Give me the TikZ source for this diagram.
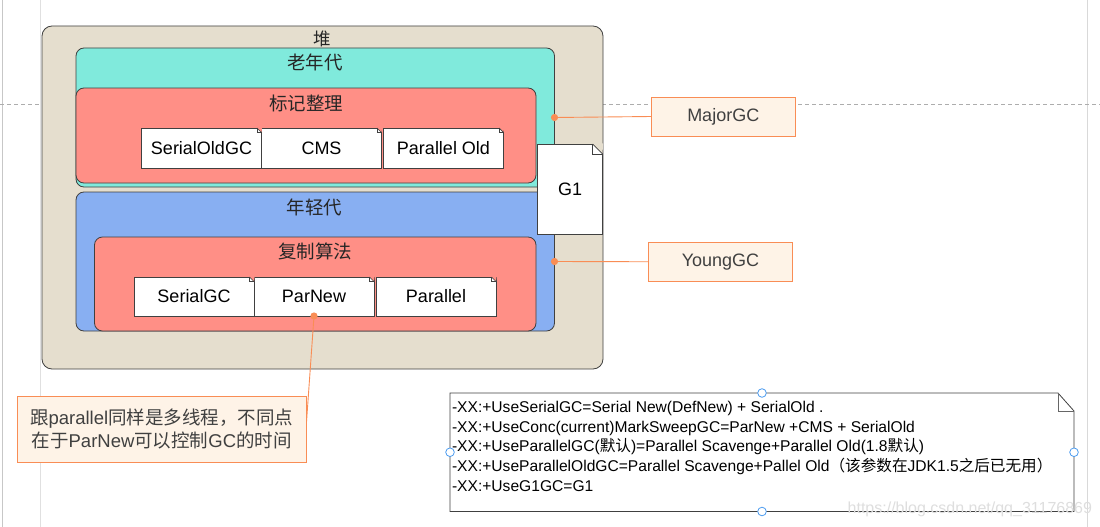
\documentclass[tikz,border=0pt]{standalone}
\usepackage{fontspec}
\setmainfont{Liberation Sans}
\newfontfamily\cjk{Noto Sans CJK SC}
\definecolor{heapc}{HTML}{E5DECE}
\definecolor{oldc}{HTML}{80EADC}
\definecolor{redc}{HTML}{FF8F86}
\definecolor{youngc}{HTML}{88AFF2}
\definecolor{orangec}{HTML}{F98D55}
\definecolor{notec}{HTML}{FEF3E7}
\definecolor{edgec}{HTML}{404040}
\definecolor{handlec}{HTML}{4A9BF0}
\newcommand\dogear[3]{%
  \fill[#3] ([xshift=-#2]#1.north east) -- ([xshift=0.6pt,yshift=0.6pt]#1.north east) -- ([yshift=-#2]#1.north east) -- cycle;
  \draw[edgec, line width=0.7pt] ([xshift=-#2]#1.north east) -- ([yshift=-#2]#1.north east);
  \draw[edgec, line width=0.7pt] ([xshift=-#2]#1.north east) |- ([yshift=-#2]#1.north east);
}
\tikzset{
  every node/.style={outer sep=0pt, inner sep=0pt},
  container/.style={draw=edgec, line width=0.8pt, rounded corners=8pt},
  gcbox/.style={draw=edgec, line width=0.8pt, fill=white, font=\fontsize{18}{20}\selectfont},
  tag/.style={draw=orangec, line width=0.9pt, fill=notec, text=edgec, font=\fontsize{18}{20}\selectfont},
  lbl/.style={text=black!85, font=\cjk\fontsize{18.5}{20}\selectfont},
  conn/.style={draw=orangec, line width=0.9pt},
  dot/.style={fill=orangec},
  handle/.style={draw=handlec, fill=white, line width=0.8pt},
  codeline/.style={anchor=base west, font=\fontsize{15.6}{19}\selectfont},
}
\begin{document}
\begin{tikzpicture}[x=1pt, y=-1pt]
\useasboundingbox (0,0) rectangle (1100,527);
% background guides
\draw[black!22, line width=1.6pt] (2.5,0) -- (2.5,527);
\draw[black!12, line width=0.8pt] (40,0) -- (40,527);
\draw[black!15, line width=0.8pt] (1087,0) -- (1087,527);
\draw[black!32, line width=0.7pt, dash pattern=on 4pt off 3pt] (0,104) -- (1100,104);

% heap
\node[container, fill=heapc, rounded corners=10pt, minimum width=561pt, minimum height=343pt] (heap) at (322.5,197.5) {};
\node[lbl, font=\cjk\fontsize{17.5}{20}\selectfont] (heaplbl) at (322.5,39) {堆};

% old generation
\node[container, fill=oldc, minimum width=478.5pt, minimum height=139pt] (old) at (315.25,117.5) {};
\node[lbl] (oldlbl) at (315,62) {老年代};
\node[container, fill=redc, minimum width=460pt, minimum height=95pt] (mark) at (306,135.5) {};
\node[lbl] (marklbl) at (306,103) {标记整理};
\node[gcbox, minimum width=120pt, minimum height=40pt] (serialold) at (201.5,148) {SerialOldGC};
\node[gcbox, minimum width=120pt, minimum height=40pt] (cms) at (321.5,148) {CMS};
\node[gcbox, minimum width=120pt, minimum height=40pt] (parold) at (443.5,148) {Parallel Old};
\dogear{serialold}{4.5pt}{redc}
\dogear{cms}{4.5pt}{redc}
\dogear{parold}{4.5pt}{redc}

% young generation
\node[container, fill=youngc, minimum width=478.5pt, minimum height=139pt] (young) at (315.25,261.5) {};
\node[lbl] (younglbl) at (314.5,207.5) {年轻代};
\node[container, fill=redc, minimum width=441.5pt, minimum height=94pt] (copy) at (315.25,284) {};
\node[lbl] (copylbl) at (315,251.5) {复制算法};
\node[gcbox, minimum width=120pt, minimum height=39pt] (serial) at (194,296.5) {SerialGC};
\node[gcbox, minimum width=120pt, minimum height=39pt] (parnew) at (314,296.5) {ParNew};
\node[gcbox, minimum width=120pt, minimum height=39pt] (parallel) at (436,296.5) {Parallel};
\dogear{serial}{4.5pt}{redc}
\dogear{parnew}{4.5pt}{redc}
\dogear{parallel}{4.5pt}{redc}

% G1
\node[gcbox, minimum width=65pt, minimum height=90pt] (g1) at (570,189) {G1};
\dogear{g1}{10pt}{heapc}

% GC kinds
\node[tag, minimum width=143.5pt, minimum height=39pt] (major) at (723.25,116.5) {MajorGC};
\node[tag, minimum width=144pt, minimum height=38.5pt] (younggc) at (720.5,261.75) {YoungGC};
\draw[conn] (old.east) -- (major.west);
\draw[conn] (young.east) -- (younggc.west);

% note about ParNew
\draw[conn] (parnew.south) -- (306,429) coordinate (noteend);
\node[tag, minimum width=288.7pt, minimum height=66pt, align=center, font=\fontsize{18.5}{23.3}\selectfont] (note) at (161.65,429)
  {{\cjk 跟}parallel{\cjk 同样是多线程，不同点}\\{\cjk 在于}ParNew{\cjk 可以控制}GC{\cjk 的时间}};
\fill[dot] (old.east) circle (3.6pt);
\fill[dot] (young.east) circle (3.6pt);
\fill[dot] (parnew.south) circle (3.6pt);

% code note
\node[minimum width=624pt, minimum height=118.5pt] (code) at (762,452.25) {};
\draw[edgec, line width=0.8pt, fill=white] (code.south west) -- (code.north west) -- ([xshift=-16pt]code.north east) -- ([yshift=-18pt]code.north east) -- (code.south east) -- cycle;
\draw[edgec!80, line width=0.7pt] ([xshift=-16pt]code.north east) |- ([yshift=-18pt]code.north east);
\node[codeline] (c1) at (452,412) {-XX:+UseSerialGC=Serial New(DefNew) + SerialOld .};
\node[codeline] (c2) at (452,432) {-XX:+UseConc(current)MarkSweepGC=ParNew +CMS + SerialOld};
\node[codeline] (c3) at (452,451.5) {-XX:+UseParallelGC({\cjk 默认})=Parallel Scavenge+Parallel Old(1.8{\cjk 默认})};
\node[codeline] (c4) at (452,471.5) {-XX:+UseParallelOldGC=Parallel Scavenge+Pallel Old{\cjk （该参数在}JDK1.5{\cjk 之后已无用）}};
\node[codeline] (c5) at (452,491.5) {-XX:+UseG1GC=G1};
\node[text=black!13, font=\fontsize{16}{18}\selectfont, anchor=base east] (wm) at (1092,513) {https://blog.csdn.net/qq\_31176869};
\draw[handle] (code.north) circle (4.3pt);
\draw[handle] (code.south) circle (4.3pt);
\draw[handle] (code.west) circle (4.3pt);
\draw[handle] (code.east) circle (4.3pt);
\end{tikzpicture}
\end{document}
